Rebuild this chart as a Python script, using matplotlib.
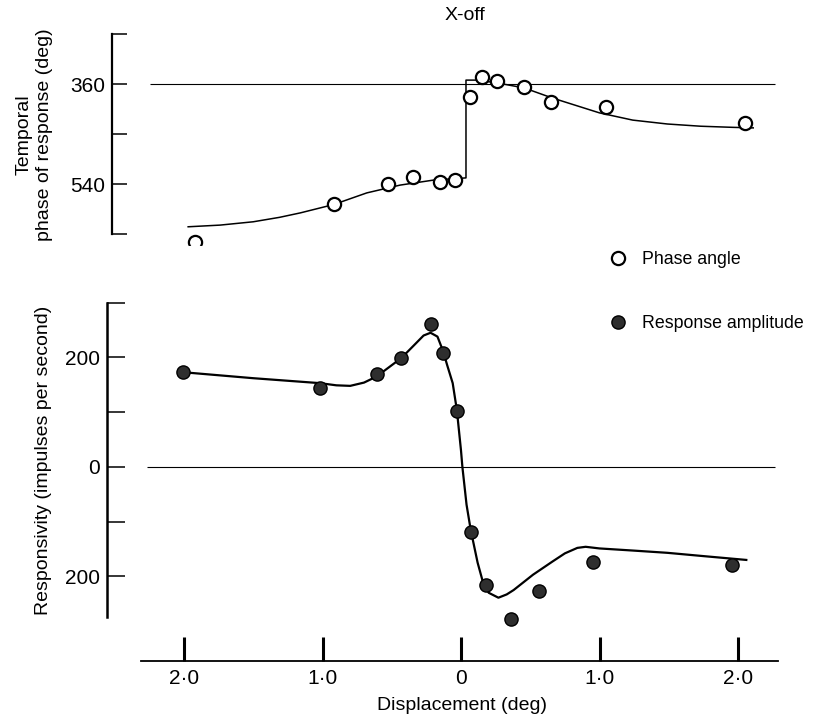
import matplotlib.pyplot as plt
import numpy as np

plt.rcParams['font.family'] = ['Liberation Sans', 'DejaVu Sans']

# phase angle data (open circles)
phase_x = [-1.92, -0.92, -0.53, -0.35, -0.15, -0.04, 0.065, 0.15, 0.26, 0.455, 0.65, 1.05, 2.05]
phase_deg = [644, 576, 540, 527, 536, 533, 383, 347, 355, 365, 392, 401, 430]

# fitted phase curve
phase_fit_x = [-1.97, -1.74, -1.5, -1.31, -1.16, -0.92, -0.68, -0.44, -0.2, 0.036,
               0.036, 0.115, 0.26, 0.455, 0.657, 1.0, 1.24, 1.49, 1.73, 1.96, 2.11]
phase_fit_deg = [617, 614, 608, 600, 592, 577, 556, 542, 533, 529,
                 353, 353, 358, 367, 385, 412, 425, 432, 436, 438, 439]

# response amplitude data (filled circles)
amp_x = [-2.01, -1.02, -0.61, -0.43, -0.22, -0.13, -0.03, 0.07, 0.18, 0.36, 0.56, 0.95, 1.96]
amp_val = [173, 144, 170, 199, 261, 208, 102, -119, -215, -278, -226, -173, -179]

# fitted amplitude curve
amp_fit_x = [-2.01, -1.5, -1.02, -0.9, -0.8, -0.7, -0.61, -0.52, -0.43, -0.34, -0.27,
             -0.22, -0.17, -0.13, -0.1, -0.06, -0.03, 0.0, 0.01, 0.04, 0.07, 0.12,
             0.16, 0.2, 0.27, 0.33, 0.38, 0.45, 0.52, 0.59, 0.66, 0.75, 0.84, 0.9,
             1.0, 1.25, 1.49, 1.75, 2.06]
amp_fit_val = [173, 162, 153, 149, 148, 154, 165, 182, 199, 222, 240,
               245, 238, 212, 186, 153, 104, 30, 0, -69, -115, -175,
               -212, -230, -239, -233, -225, -211, -197, -185, -173, -158, -148, -146,
               -149, -153, -157, -163, -170]

xticks = [-2, -1, 0, 1, 2]
xtick_labels = ['2\u00b70', '1\u00b70', '0', '1\u00b70', '2\u00b70']

W, H = 816, 717
fig = plt.figure(figsize=(W / 100, H / 100), dpi=100)


def box(left, top, right, bottom):
    return [left / W, 1 - bottom / H, (right - left) / W, (bottom - top) / H]


x0px, pxu = 461, 138.5


def xlim_for(left, right):
    return ((left - x0px) / pxu, (right - x0px) / pxu)


# top panel: phase
ax1 = fig.add_axes(box(112, 25, 790, 245))
ax1.set_xlim(*xlim_for(112, 790))
ax1.set_ylim(649.8, 253.8)
ax1.hlines(360, -2.245, 2.267, color='black', lw=0.8)
ax1.plot(phase_fit_x, phase_fit_deg, color='black', lw=1.1)
ax1.plot(phase_x, phase_deg, 'o', ms=9.5, mfc='white', mec='black', mew=1.6)
for s in ['top', 'right', 'bottom']:
    ax1.spines[s].set_visible(False)
ax1.spines['left'].set_bounds(630, 270)
ax1.spines['left'].set_linewidth(1.6)
ax1.set_xticks([])
ax1.set_yticks([270, 360, 450, 540, 630])
ax1.set_yticklabels(['', '360', '', '540', ''])
ax1.tick_params(axis='y', direction='in', length=11, width=1.1, pad=5, labelsize=15)
ax1.patch.set_alpha(0)

# bottom panel: responsivity
ax2 = fig.add_axes(box(107, 295, 790, 630))
ax2.set_xlim(*xlim_for(107, 790))
ax2.set_ylim(-298, 314)
ax2.hlines(0, -2.267, 2.267, color='black', lw=0.8)
ax2.plot(amp_fit_x, amp_fit_val, color='black', lw=1.6)
ax2.plot(amp_x, amp_val, 'o', ms=9.5, mfc='#2e2e2e', mec='black', mew=1.0)
for s in ['top', 'right', 'bottom']:
    ax2.spines[s].set_visible(False)
ax2.spines['left'].set_bounds(-275, 300)
ax2.spines['left'].set_linewidth(1.8)
ax2.set_xticks([])
ax2.set_yticks([300, 200, 100, 0, -100, -200])
ax2.set_yticklabels(['', '200', '', '0', '', '200'])
ax2.tick_params(axis='y', direction='in', length=13, width=1.1, pad=5, labelsize=15)
ax2.patch.set_alpha(0)

# displacement axis
ax3 = fig.add_axes(box(107, 630, 790, 661))
ax3.set_xlim(*xlim_for(107, 790))
for s in ['top', 'right', 'left']:
    ax3.spines[s].set_visible(False)
ax3.spines['bottom'].set_bounds(-2.31, 2.29)
ax3.spines['bottom'].set_linewidth(1.3)
ax3.set_yticks([])
ax3.set_xticks(xticks)
ax3.set_xticklabels(xtick_labels)
ax3.tick_params(axis='x', direction='in', length=17, width=2.2, pad=6, labelsize=15)
ax3.patch.set_alpha(0)

fig.text(465 / W, 1 - 15 / H, 'X-off', ha='center', va='center', fontsize=14)
fig.text(462 / W, 1 - 705 / H, 'Displacement (deg)', ha='center', va='center', fontsize=14)
fig.text(34 / W, 1 - 135 / H, 'Temporal\nphase of response (deg)', ha='center', va='center',
         rotation=90, fontsize=14, multialignment='center', linespacing=1.25)
fig.text(44 / W, 1 - 460 / H, 'Responsivity (impulses per second)', ha='center', va='center',
         rotation=90, fontsize=14)

# legend entries
fig.lines.append(plt.Line2D([618 / W], [1 - 258 / H], marker='o', ms=9.5, mfc='white',
                            mec='black', mew=1.6, transform=fig.transFigure))
fig.text(642 / W, 1 - 259 / H, 'Phase angle', ha='left', va='center', fontsize=12.8)
fig.lines.append(plt.Line2D([618 / W], [1 - 322 / H], marker='o', ms=9.5, mfc='#2e2e2e',
                            mec='black', mew=1.0, transform=fig.transFigure))
fig.text(642 / W, 1 - 323 / H, 'Response amplitude', ha='left', va='center', fontsize=12.8)

fig.savefig('out.png', dpi=100)
